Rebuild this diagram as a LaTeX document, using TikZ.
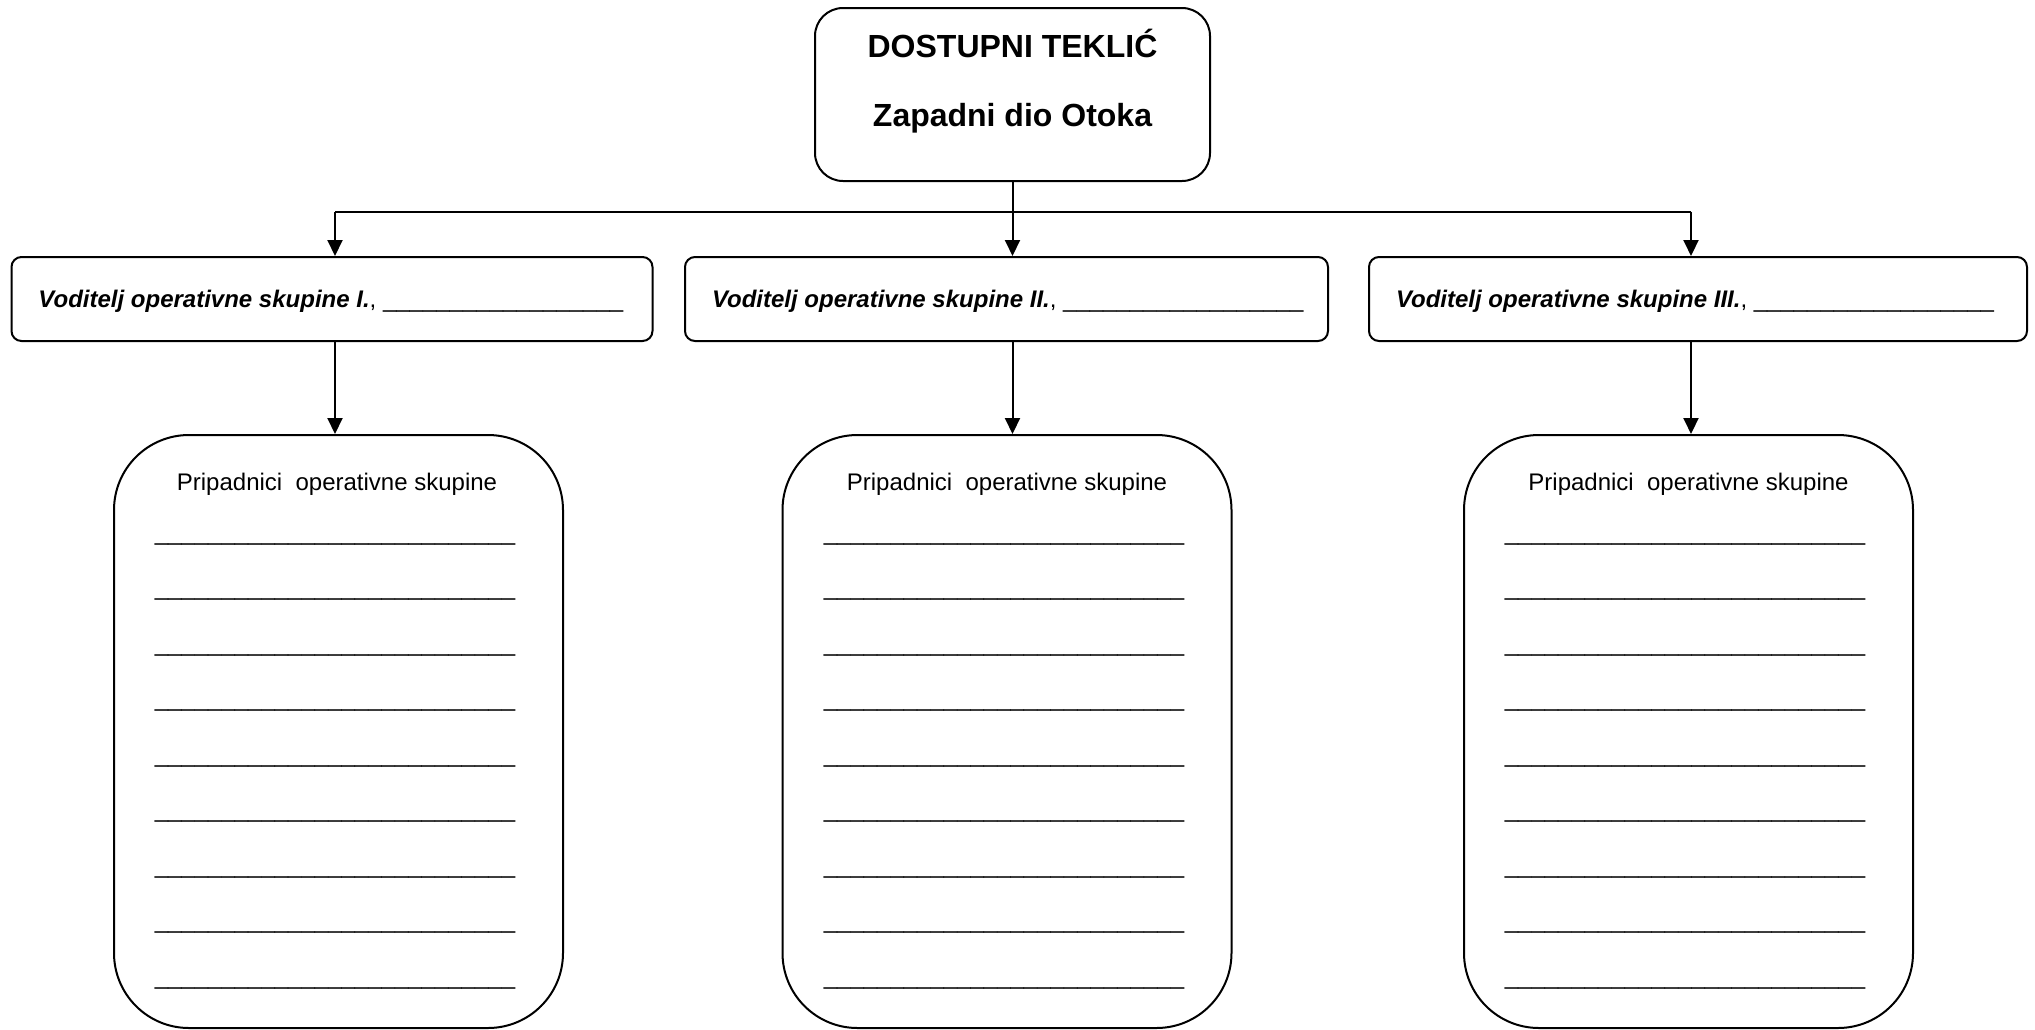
\documentclass[tikz,border=0pt]{standalone}
\usepackage{fontspec}
\setmainfont{Liberation Sans}
\usetikzlibrary{positioning,calc,arrows.meta}
\newcommand*{\blank}[1]{\foreach\k in {1,...,#1}{\_}}
\newcommand*{\lbl}[1]{\textbf{\textit{#1}}}
\newcommand*{\vod}[2]{\makebox[#1][l]{\lbl{Voditelj operativne skupine #2.}, \blank{18}}}

\begin{document}
\begin{tikzpicture}[x=0.5pt,y=-0.5pt,
  every node/.style={font=\fontsize{12}{14}\selectfont},
  frame/.style={draw,line width=1pt},
  head/.style={frame,rounded corners=14pt,minimum width=197.5pt,minimum height=86.5pt},
  lead/.style={frame,rounded corners=5pt,minimum height=42pt,inner xsep=13.5pt,
               text height=9pt,text depth=1pt},
  crew/.style={frame,rounded corners=37.5pt,minimum width=224.5pt,minimum height=296.5pt},
  wire/.style={line width=1pt},
  link/.style={wire,-{Triangle[length=8pt,width=7.5pt]}}]
\useasboundingbox (0,0) rectangle (2035,1029);
% Top box with its two lines of title
\node[head] (head) at (1012.5,94.5) {};
\node[font=\fontsize{16}{19}\selectfont\bfseries,anchor=base] (title) at (1012.5,57) {DOSTUPNI TEKLIĆ};
\node[font=\fontsize{16}{19}\selectfont\bfseries,anchor=base] (area) at (1012.5,126) {Zapadni dio Otoka};
% Group leaders
\node[lead] (lead1) at (332,299) {\vod{293.5pt}{I}};
\node[lead] (lead2) at (1006.5,299) {\vod{294.5pt}{II}};
\node[lead] (lead3) at (1698,299) {\vod{302pt}{III}};
% Group members, blank lines to fill in
\foreach \n/\bx/\tx/\lx in {1/338.5/337/335,2/1007/1007/1004,3/1688.5/1688.5/1685}{
  \node[crew] (crew\n) at (\bx,731.5) {};
  \node[anchor=base] (crew\n t) at (\tx,490) {Pripadnici\ \ operativne skupine};
  \foreach \i in {0,...,8}
    \node[anchor=base] (crew\n l\i) at (\lx,540+55.5*\i) {\blank{27}};
}
% Connectors
\coordinate (bus1) at (335,211.5);
\coordinate (bus3) at (1691,211.5);
\draw[wire] (bus1) -- (bus3);
\draw[link] (head.south) -- (head.south |- lead2.north);
\draw[link] (bus1) -- (bus1 |- lead1.north);
\draw[link] (bus3) -- (bus3 |- lead3.north);
\draw[link] (bus1 |- lead1.south) -- (bus1 |- crew1.north);
\draw[link] (head.south |- lead2.south) -- (head.south |- crew2.north);
\draw[link] (bus3 |- lead3.south) -- (bus3 |- crew3.north);
\end{tikzpicture}
\end{document}
